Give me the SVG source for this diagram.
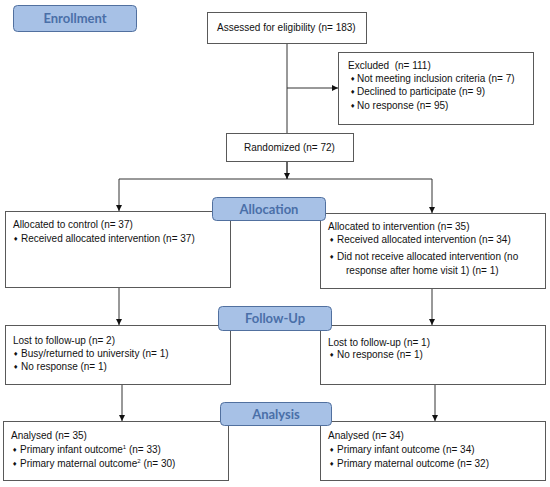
<svg xmlns="http://www.w3.org/2000/svg" width="550" height="487" viewBox="0 0 550 487">
<style>
.box{fill:#fff;stroke:#595959;stroke-width:1}
.lab{fill:#a7c1e6;stroke:#51709f;stroke-width:1}
.lt{font-family:Lato,"Open Sans",sans-serif;font-weight:bold;font-size:13px;fill:#4a6fa8;text-anchor:middle}
.t{font-family:"Liberation Sans",Arial,sans-serif;font-size:10px;fill:#111}
.b{font-family:"DejaVu Sans",sans-serif;font-size:6px;fill:#111}
.c{fill:none;stroke:#333;stroke-width:1}
</style>
<defs>
<marker id="ah" markerWidth="6" markerHeight="6" refX="6" refY="3" orient="auto" markerUnits="userSpaceOnUse">
<path d="M0,0 L6,3 L0,6 Z" fill="#111"/>
</marker>
</defs>
<g id="connectors">
<path class="c" d="M287,43 V179"/>
<path class="c" d="M287,88 H338" marker-end="url(#ah)"/>
<path class="c" d="M287,161 V179" marker-end="url(#ah)"/>
<path class="c" d="M119,179 H432"/>
<path class="c" d="M119,179 V211" marker-end="url(#ah)"/>
<path class="c" d="M432,179 V213" marker-end="url(#ah)"/>
<path class="c" d="M119,287 V325" marker-end="url(#ah)"/>
<path class="c" d="M432,289 V325" marker-end="url(#ah)"/>
<path class="c" d="M122,384 V421" marker-end="url(#ah)"/>
<path class="c" d="M435,384 V421" marker-end="url(#ah)"/>
</g>
<g id="enrollment">
<rect class="lab" x="13.5" y="5.5" width="123" height="26" rx="4"/>
<text class="lt" x="75" y="23">Enrollment</text>
</g>
<g id="assessed">
<rect class="box" x="207.5" y="12.5" width="159" height="31"/>
<text class="t" x="217" y="31">Assessed for eligibility (n= 183)</text>
</g>
<g id="excluded">
<rect class="box" x="338.5" y="52.5" width="195" height="72"/>
<text class="t" x="348" y="69">Excluded &#160;(n= 111)</text>
<text class="b" x="350" y="81">♦</text><text class="t" x="357" y="82">Not meeting inclusion criteria (n= 7)</text>
<text class="b" x="350" y="94">♦</text><text class="t" x="357" y="95">Declined to participate (n= 9)</text>
<text class="b" x="350" y="108">♦</text><text class="t" x="357" y="109">No response (n= 95)</text>
</g>
<g id="randomized">
<rect class="box" x="226.5" y="133.5" width="127" height="28"/>
<text class="t" x="244" y="151">Randomized (n= 72)</text>
</g>
<g id="alloc-control">
<rect class="box" x="5.5" y="211.5" width="225" height="76"/>
<text class="t" x="13" y="228">Allocated to control (n= 37)</text>
<text class="b" x="13" y="241">♦</text><text class="t" x="21" y="242">Received allocated intervention (n= 37)</text>
</g>
<g id="alloc-intervention">
<rect class="box" x="320.5" y="213.5" width="225" height="75"/>
<text class="t" x="328" y="230">Allocated to intervention (n= 35)</text>
<text class="b" x="329" y="242">♦</text><text class="t" x="337" y="243">Received allocated intervention (n= 34)</text>
<text class="b" x="329" y="259">♦</text><text class="t" x="337" y="260">Did not receive allocated intervention (no</text>
<text class="t" x="346" y="274">response after home visit 1) (n= 1)</text>
</g>
<g id="allocation">
<rect class="lab" x="212.5" y="197.5" width="113" height="23" rx="4"/>
<text class="lt" x="269" y="214">Allocation</text>
</g>
<g id="followup-control">
<rect class="box" x="5.5" y="325.5" width="225" height="59"/>
<text class="t" x="13" y="344">Lost to follow-up (n= 2)</text>
<text class="b" x="13" y="356">♦</text><text class="t" x="21" y="357">Busy/returned to university (n= 1)</text>
<text class="b" x="13" y="369">♦</text><text class="t" x="21" y="370">No response (n= 1)</text>
</g>
<g id="followup-intervention">
<rect class="box" x="320.5" y="325.5" width="225" height="59"/>
<text class="t" x="328" y="346">Lost to follow-up (n= 1)</text>
<text class="b" x="329" y="357">♦</text><text class="t" x="337" y="358">No response (n= 1)</text>
</g>
<g id="followup">
<rect class="lab" x="218.5" y="306.5" width="113" height="24" rx="4"/>
<text class="lt" x="275" y="323">Follow-Up</text>
</g>
<g id="analysis-control">
<rect class="box" x="3.5" y="421.5" width="225" height="59"/>
<text class="t" x="11" y="439">Analysed (n= 35)</text>
<text class="b" x="12" y="452">♦</text><text class="t" x="20" y="453">Primary infant outcome<tspan font-size="6" dy="-4">1</tspan><tspan dy="4"> (n= 33)</tspan></text>
<text class="b" x="12" y="466">♦</text><text class="t" x="20" y="467">Primary maternal outcome<tspan font-size="6" dy="-4">2</tspan><tspan dy="4"> (n= 30)</tspan></text>
</g>
<g id="analysis-intervention">
<rect class="box" x="320.5" y="421.5" width="225" height="59"/>
<text class="t" x="328" y="439">Analysed (n= 34)</text>
<text class="b" x="329" y="452">♦</text><text class="t" x="337" y="453">Primary infant outcome (n= 34)</text>
<text class="b" x="329" y="466">♦</text><text class="t" x="337" y="467">Primary maternal outcome (n= 32)</text>
</g>
<g id="analysis">
<rect class="lab" x="220.5" y="402.5" width="111" height="23" rx="4"/>
<text class="lt" x="276" y="419">Analysis</text>
</g>
</svg>
